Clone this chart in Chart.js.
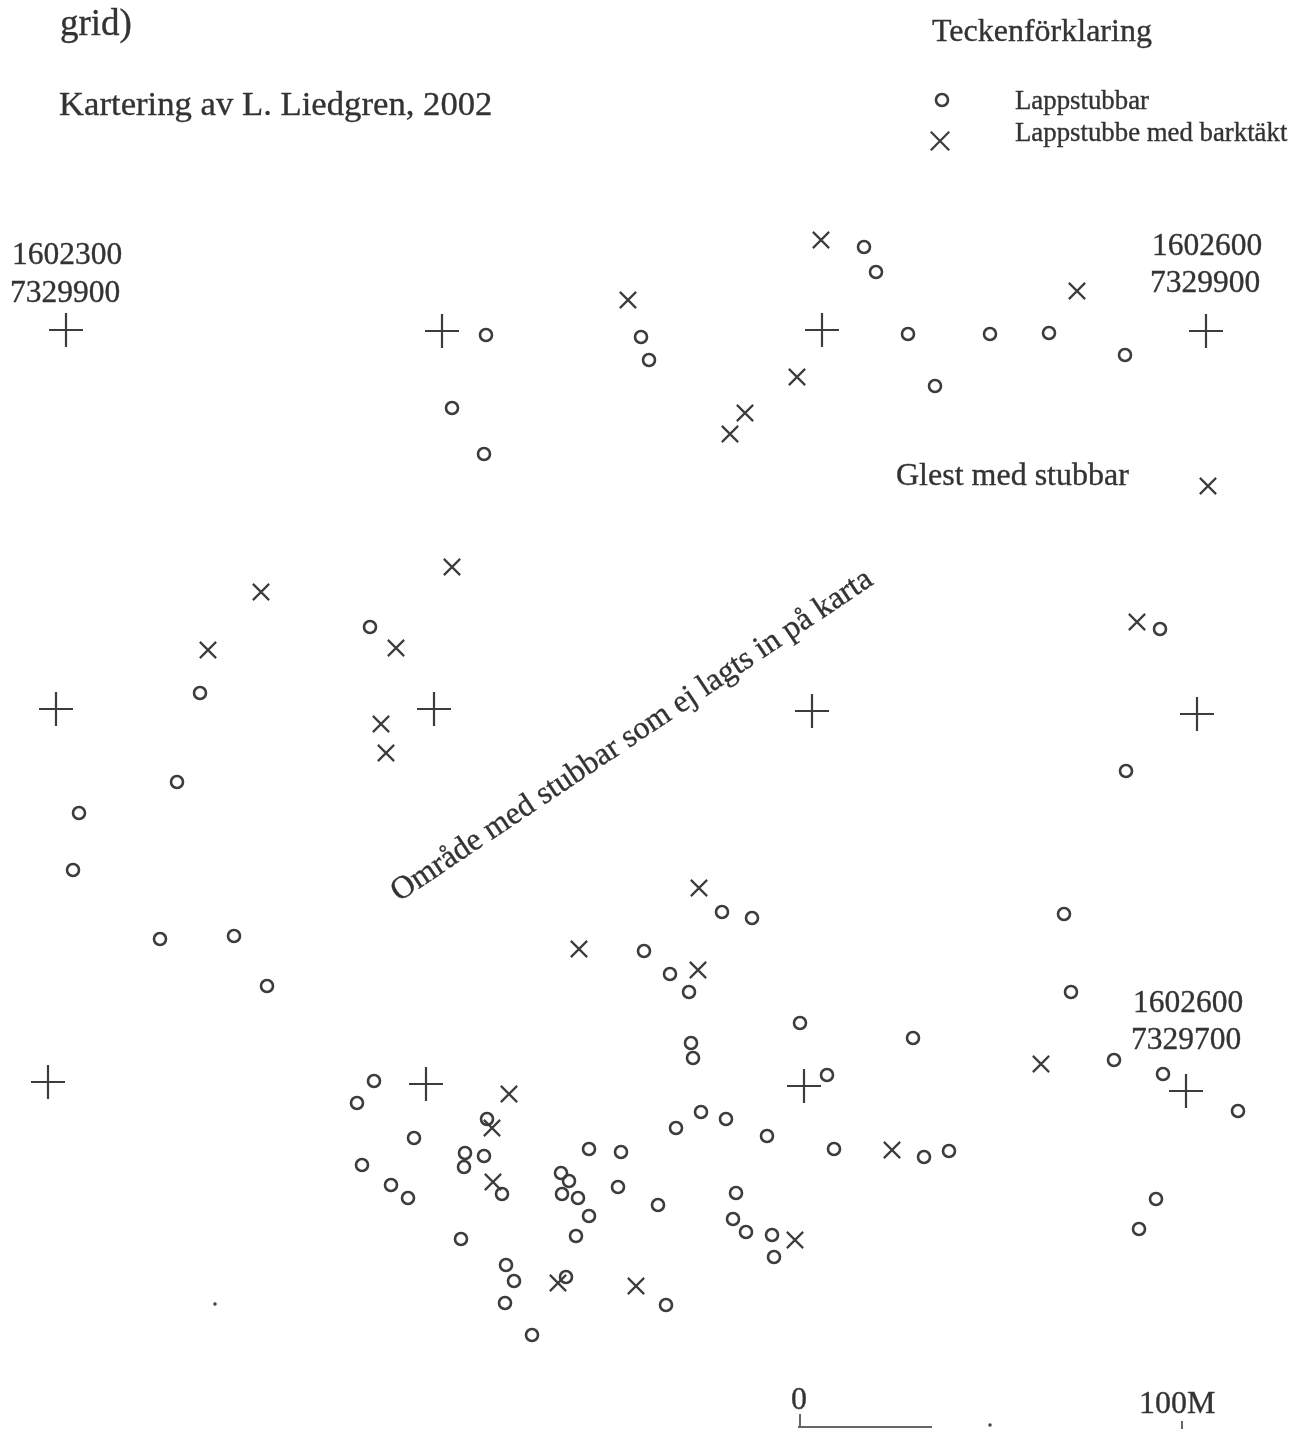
<!DOCTYPE html>
<html lang="sv">
<head>
<meta charset="utf-8">
<title>Kartering av L. Liedgren, 2002</title>
<style>
html,body{margin:0;padding:0;background:#fff;}
canvas{display:block;}
</style>
<script src="https://cdn.jsdelivr.net/npm/chart.js@4/dist/chart.umd.min.js"></script>
</head>
<body>
<canvas id="map" width="1294" height="1429"></canvas>
<script>
// Values, in sheet units (1 unit = 1 sheet pixel, y runs downward).
const lappstubbarX = [864,876,486,641,649,908,990,1049,1125,935,452,484,370,200,1160,1126,177,79,73,160,234,267,722,752,644,670,689,1064,1071,800,913,691,693,1114,1163,1238,827,374,357,414,362,391,408,487,465,464,484,502,461,506,514,505,532,566,589,621,618,561,569,562,578,589,576,658,676,701,726,767,834,924,949,736,733,746,772,774,666,1156,1139];
const lappstubbarY = [247,272,335,337,360,334,334,333,355,386,408,454,627,693,629,771,782,813,870,939,936,986,912,918,951,974,992,914,992,1023,1038,1043,1058,1060,1074,1111,1075,1081,1103,1138,1165,1185,1198,1119,1153,1167,1156,1194,1239,1265,1281,1303,1335,1277,1149,1152,1187,1173,1181,1194,1198,1216,1236,1205,1128,1112,1119,1136,1149,1157,1151,1193,1219,1232,1235,1257,1305,1199,1229];
const barktaktX = [821,628,1077,797,745,730,1208,452,261,208,396,381,386,1137,699,579,698,1041,509,492,493,558,636,892,795];
const barktaktY = [240,300,291,377,413,434,486,567,592,650,648,724,753,622,888,949,970,1064,1094,1128,1182,1283,1286,1150,1240];
const gridX = [66,442,822,1206,56,434,812,1197,48,426,804,1186];
const gridY = [330,331,330,331,709,709,711,714,1082,1084,1086,1091];
const keyCircleX = [942], keyCircleY = [100];
const keyCrossX = [940], keyCrossY = [141];
const speckX = [215,990], speckY = [1304,1425];
const scaleLineX = [798,932], scaleLineY = [1427,1427];
const scaleTick0X = [800,800], scaleTick0Y = [1414,1427];
const scaleTick100X = [1182,1182], scaleTick100Y = [1421,1429];

const texts = ["grid)","Kartering av L. Liedgren, 2002","Teckenförklaring","Lappstubbar","Lappstubbe med barktäkt","1602300","7329900","1602600","7329900","Glest med stubbar","Område med stubbar som ej lagts in på karta","1602600","7329700","0","100M"];

const zip = (xs, ys) => xs.map((x, i) => ({x, y: ys[i]}));
const INK = '#3c3c3c';

const textStyles = [
  {x:60,y:35,s:37},{x:59,y:115,s:34.7},{x:932,y:41,s:32},{x:1015,y:109,s:26.8},{x:1015,y:141,s:26.8},
  {x:12,y:264,s:31.5},{x:10,y:302,s:31.5},{x:1152,y:255,s:31.5},{x:1150,y:292,s:31.5},{x:896,y:485,s:32},
  {x:399,y:902,s:32,r:-33.8},{x:1133,y:1012,s:31.5},{x:1131,y:1049,s:31.5},{x:791,y:1409,s:32},{x:1139,y:1413,s:32}
];

const mapText = {
  id:'mapText',
  afterDatasetsDraw(chart){
    const {ctx, scales:{x, y}} = chart;
    ctx.save();
    ctx.fillStyle = '#333';
    ctx.strokeStyle = '#333';
    ctx.lineWidth = 0.35;
    ctx.textBaseline = 'alphabetic';
    ctx.textAlign = 'left';
    texts.forEach((t, i) => {
      const st = textStyles[i];
      ctx.save();
      ctx.translate(x.getPixelForValue(st.x), y.getPixelForValue(st.y));
      if (st.r) ctx.rotate(st.r * Math.PI / 180);
      ctx.font = st.s + 'px "Liberation Serif"';
      ctx.fillText(t, 0, 0);
      ctx.strokeText(t, 0, 0);
      ctx.restore();
    });
    ctx.restore();
  }
};

const pts = (label, xs, ys, pointStyle, radius, borderWidth) => ({
  label, data: zip(xs, ys), pointStyle, pointRadius: radius, pointHoverRadius: radius,
  pointBorderWidth: borderWidth, pointBorderColor: INK, pointBackgroundColor: 'rgba(0,0,0,0)',
  showLine: false, clip: false
});
const rule = (label, xs, ys) => ({
  label, data: zip(xs, ys), showLine: true, borderColor: '#666', borderWidth: 2,
  pointRadius: 0, clip: false
});

new Chart(document.getElementById('map'), {
  type: 'scatter',
  data: { datasets: [
    pts('Lappstubbar', lappstubbarX, lappstubbarY, 'circle', 6, 2.6),
    pts('Lappstubbe med barktäkt', barktaktX, barktaktY, 'crossRot', 11.5, 2.2),
    pts('Rutnät', gridX, gridY, 'cross', 17, 2.2),
    pts('Lappstubbar (nyckel)', keyCircleX, keyCircleY, 'circle', 6, 2.6),
    pts('Lappstubbe med barktäkt (nyckel)', keyCrossX, keyCrossY, 'crossRot', 13, 2.2),
    pts('Fläckar', speckX, speckY, 'circle', 1, 1.5),
    rule('Skala', scaleLineX, scaleLineY),
    rule('Skala 0', scaleTick0X, scaleTick0Y),
    rule('Skala 100M', scaleTick100X, scaleTick100Y)
  ]},
  options: {
    responsive: false,
    animation: false,
    devicePixelRatio: 1,
    layout: { padding: 0, autoPadding: false },
    plugins: { legend: { display: false }, tooltip: { enabled: false }, title: { display: false } },
    scales: {
      x: { type: 'linear', min: 0, max: 1294, display: false },
      y: { type: 'linear', min: 0, max: 1429, reverse: true, display: false }
    }
  },
  plugins: [mapText]
});
</script>
</body>
</html>
